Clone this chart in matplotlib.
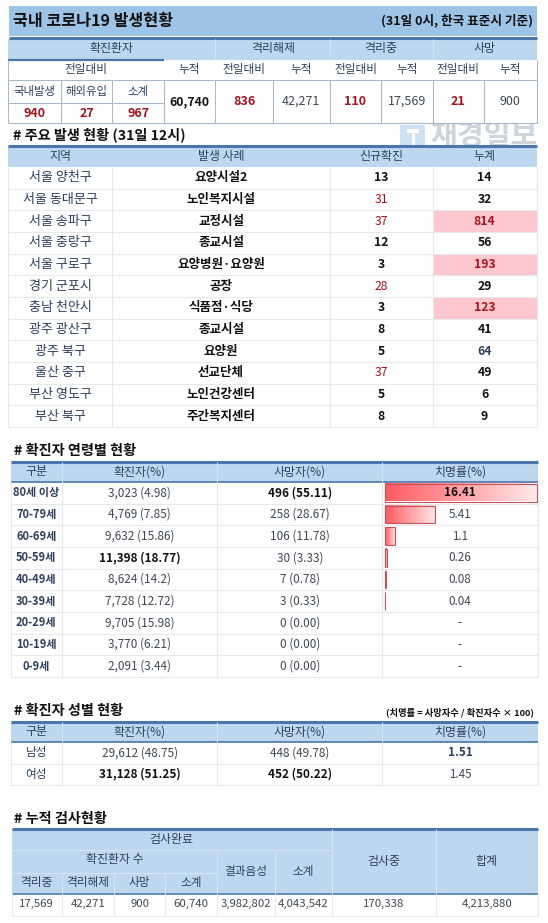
import numpy as np
import matplotlib
matplotlib.use('Agg')
import matplotlib.pyplot as plt
from matplotlib.patches import Rectangle

plt.rcParams['font.family'] = ['Noto Sans CJK KR', 'DejaVu Sans']

# top summary
summary_heads = ['확진환자', '격리해제', '격리중', '사망']
sub_heads = ['누적', '전일대비', '누적', '전일대비', '누적', '전일대비', '누적']
new_heads = ['국내발생', '해외유입', '소계']
new_values = ['940', '27', '967']
summary_values = ['60,740', '836', '42,271', '110', '17,569', '21', '900']

# main outbreaks
regions = ['서울 양천구', '서울 동대문구', '서울 송파구', '서울 중랑구', '서울 구로구', '경기 군포시',
           '충남 천안시', '광주 광산구', '광주 북구', '울산 중구', '부산 영도구', '부산 북구']
cases = ['요양시설2', '노인복지시설', '교정시설', '종교시설', '요양병원·요양원', '공장',
         '식품점·식당', '종교시설', '요양원', '선교단체', '노인건강센터', '주간복지센터']
new_cases = [13, 31, 37, 12, 3, 28, 3, 8, 5, 37, 5, 8]
total_cases = [14, 32, 814, 56, 193, 29, 123, 41, 64, 49, 6, 9]

# age table
ages = ['80세 이상', '70-79세', '60-69세', '50-59세', '40-49세', '30-39세', '20-29세', '10-19세', '0-9세']
age_conf = ['3,023 (4.98)', '4,769 (7.85)', '9,632 (15.86)', '11,398 (18.77)', '8,624 (14.2)',
            '7,728 (12.72)', '9,705 (15.98)', '3,770 (6.21)', '2,091 (3.44)']
age_dead = ['496 (55.11)', '258 (28.67)', '106 (11.78)', '30 (3.33)', '7 (0.78)', '3 (0.33)',
            '0 (0.00)', '0 (0.00)', '0 (0.00)']
age_rate = [16.41, 5.41, 1.1, 0.26, 0.08, 0.04, None, None, None]

# gender table
genders = ['남성', '여성']
gender_conf = ['29,612 (48.75)', '31,128 (51.25)']
gender_dead = ['448 (49.78)', '452 (50.22)']
gender_rate = ['1.51', '1.45']

# test table
test_heads = ['격리중', '격리해제', '사망', '소계']
test_values = ['17,569', '42,271', '900', '60,740', '3,982,802', '4,043,542', '170,338', '4,213,880']

HEAD = '#BDD7EE'
BAND = '#9DC3E6'
DARK = '#4A76AC'
LINE = '#E6E8EA'
LINE2 = '#A9B9CB'
RED = '#A3141E'
NAVY = '#2E3F5E'
BLACK = '#111111'
GRAY = '#3E4852'
XMAX = 548 / 1.05

fig = plt.figure(figsize=(5.48, 9.23), dpi=100)
ax = fig.add_axes([0, 0, 1, 1])
ax.set_xlim(0, XMAX)
ax.set_ylim(923, 0)
ax.axis('off')


def box(x0, y0, x1, y1, color, z=1):
    ax.add_patch(Rectangle((x0, y0), x1 - x0, y1 - y0, fc=color, ec='none', zorder=z))


def hl(x0, x1, y, color=LINE, lw=0.8):
    ax.plot([x0, x1], [y, y], color=color, lw=lw, zorder=3, solid_capstyle='butt')


def vl(x, y0, y1, color=LINE, lw=0.8):
    ax.plot([x, x], [y0, y1], color=color, lw=lw, zorder=3, solid_capstyle='butt')


def txt(x, y, s, size=8.6, color=BLACK, bold=False, ha='center'):
    ax.text(x, y, s, fontsize=size, color=color, ha=ha, va='center',
            fontweight='bold' if bold else 'normal', zorder=5)


def mid(xs, i):
    return (xs[i] + xs[i + 1]) / 2


# title band
box(9, 6, 511, 36, BAND)
hl(9, 511, 37.5, DARK, 2.2)
txt(12, 21, '국내 코로나19 발생현황', 11.6, bold=True, ha='left')
txt(508, 21, '(31일 0시, 한국 표준시 기준)', 9.1, bold=True, ha='right')

# summary table
xs = [8, 58, 107, 156, 205, 260, 314, 363, 412, 461, 511]
box(8, 39, 511, 60, HEAD)
box(8, 60, 511, 123, 'white')
hl(8, 156, 59.5, DARK, 1.6)
for x in [205, 314, 412]:
    vl(x, 39, 60, '#D5E4F2')
txt(106, 48.5, summary_heads[0], 8.6, NAVY)
txt(260, 48.5, summary_heads[1], 8.6, NAVY)
txt(363, 48.5, summary_heads[2], 8.6, NAVY)
txt(461, 48.5, summary_heads[3], 8.6, NAVY)
txt(82, 69.5, '전일대비', 8.4, NAVY)
for i, s in enumerate(sub_heads):
    txt(mid(xs, i + 3), 69.5, s, 8.4, NAVY)
for i, s in enumerate(new_heads):
    txt(mid(xs, i), 91, s, 8.2, NAVY)
    txt(mid(xs, i), 113.5, new_values[i], 9, RED, True)
txt(mid(xs, 3), 101.5, summary_values[0], 8.8, BLACK, True)
for i, s in enumerate(summary_values[1:]):
    red = i % 2 == 0
    txt(mid(xs, i + 4), 101.5, s, 9, RED if red else GRAY, red)
hl(8, 511, 80, LINE2)
hl(8, 156, 102.5, LINE2)
hl(8, 511, 123, LINE2)
for x in xs:
    vl(x, 80, 123, LINE2)
vl(8, 60, 80, LINE2)
vl(511, 60, 80, LINE2)

# watermark, the tables cover its top and bottom
ax.text(410, 136, '재경일보', fontsize=21, color='#CDD4DB', fontweight='bold', ha='left', va='center', zorder=0.5)
box(381, 125, 405, 146, '#CFE0F0', 0.5)
box(388, 129, 399, 133, 'white', 0.6)
box(392, 129, 395, 146, 'white', 0.6)

# outbreak table
txt(12, 134.5, '# 주요 발생 현황 (31일 12시)', 10.2, bold=True, ha='left')
xs = [8, 107, 314, 412, 511]
box(8, 146, 511, 167, HEAD)
hl(8, 511, 146, DARK, 2.2)
for i, s in enumerate(['지역', '발생 사례', '신규확진', '누계']):
    txt(mid(xs, i), 156.5, s, 8.6, NAVY)
rh = (427 - 167) / 12
for i in range(12):
    y = 167 + i * rh
    yc = y + rh / 2
    if total_cases[i] > 100:
        box(412, y, 511, y + rh, '#FFC7CE')
    txt(mid(xs, 0), yc, regions[i], 9.4, NAVY)
    txt(mid(xs, 1), yc, cases[i], 9, BLACK, True)
    hi_new = new_cases[i] > 20
    txt(mid(xs, 2), yc, str(new_cases[i]), 8.8, RED if hi_new else BLACK, not hi_new)
    hi_tot = total_cases[i] > 100
    col = RED if hi_tot else (NAVY if total_cases[i] == 64 else BLACK)
    txt(mid(xs, 3), yc, str(total_cases[i]), 8.8, col, True)
    hl(8, 511, y + rh)
for x in xs:
    vl(x, 167, 427)


def stat_header(y0, y1, xs):
    box(xs[0], y0, xs[-1], y1, HEAD)
    hl(xs[0], xs[-1], y0, DARK, 2.2)
    hl(xs[0], xs[-1], y1, DARK, 1.2)
    for x in xs[1:-1]:
        vl(x, y0, y1, '#D5E4F2')
    for i, s in enumerate(['구분', '확진자(%)', '사망자(%)', '치명률(%)']):
        txt(mid(xs, i), (y0 + y1) / 2, s, 8.6, NAVY)


# age table
txt(13, 450.5, '# 확진자 연령별 현황', 10.2, bold=True, ha='left')
xs = [10, 59, 207, 364, 512]
stat_header(461.5, 482, xs)
rh = (677 - 482) / 9
bar_x0 = 366.5
bar_full = 511 - bar_x0
max_rate = max(r for r in age_rate if r is not None)
grad = np.linspace(0, 1, 256).reshape(1, -1)
cmap = matplotlib.colors.LinearSegmentedColormap.from_list('bar', ['#FF5A60', '#FFE9EA'])
for i in range(9):
    y = 482 + i * rh
    yc = y + rh / 2
    txt(mid(xs, 0), yc, ages[i], 8, NAVY, True)
    conf_bold = age_conf[i].startswith('11,398')
    txt(mid(xs, 1), yc, age_conf[i], 8.5, BLACK if conf_bold else GRAY, conf_bold)
    txt(mid(xs, 2), yc, age_dead[i], 8.5, BLACK if i == 0 else GRAY, i == 0)
    r = age_rate[i]
    if r is None:
        txt(mid(xs, 3), yc, '-', 8.6, GRAY)
    else:
        w = r / max_rate * bar_full
        ax.imshow(grad, cmap=cmap, extent=(bar_x0, bar_x0 + w, y + 19.5, y + 2), aspect='auto', zorder=2)
        ax.add_patch(Rectangle((bar_x0, y + 2), w, 17.5, fc='none', ec='#C8505A', lw=0.8, zorder=3))
        txt(mid(xs, 3), yc, str(r), 8.4, BLACK if i == 0 else GRAY, i == 0)
    hl(xs[0], xs[-1], y + rh)
for x in xs:
    vl(x, 482, 677)
ax.set_xlim(0, XMAX)
ax.set_ylim(923, 0)

# gender table
txt(13, 710.5, '# 확진자 성별 현황', 10.2, bold=True, ha='left')
txt(508, 712, '(치명률 = 사망자수 / 확진자수 × 100)', 6.7, bold=True, ha='right')
stat_header(721.5, 742, xs)
rh = 21.5
for i in range(2):
    y = 742 + i * rh
    yc = y + rh / 2
    txt(mid(xs, 0), yc, genders[i], 8.4, NAVY)
    txt(mid(xs, 1), yc, gender_conf[i], 8.5, BLACK if i == 1 else GRAY, i == 1)
    txt(mid(xs, 2), yc, gender_dead[i], 8.5, BLACK if i == 1 else GRAY, i == 1)
    txt(mid(xs, 3), yc, gender_rate[i], 8.4, NAVY if i == 0 else GRAY, i == 0)
    hl(xs[0], xs[-1], y + rh)
for x in xs:
    vl(x, 742, 785)

# test table
txt(13, 819, '# 누적 검사현황', 10.2, bold=True, ha='left')
xs = [11, 59, 109, 157, 207, 262, 316, 415, 512]
box(11, 829, 512, 893, HEAD)
hl(11, 512, 829, DARK, 2.2)
hl(11, 512, 893.5, DARK, 1.2)
hl(11, 316, 850, '#D5E4F2')
hl(11, 207, 872.5, '#D5E4F2')
for x in [59, 109, 157]:
    vl(x, 872.5, 893, '#D5E4F2')
for x in [207, 262]:
    vl(x, 850, 893, '#D5E4F2')
for x in [316, 415]:
    vl(x, 829, 893, '#D5E4F2')
txt(163.5, 839, '검사완료', 8.6, NAVY)
txt(109, 860, '확진환자 수', 8.6, NAVY)
for i, s in enumerate(test_heads):
    txt(mid(xs, i), 882.5, s, 8.4, NAVY)
txt(mid(xs, 4), 871, '결과음성', 8.4, NAVY)
txt(mid(xs, 5), 871, '소계', 8.4, NAVY)
txt(mid(xs, 6), 861, '검사중', 8.6, NAVY)
txt(mid(xs, 7), 861, '합계', 8.6, NAVY)
for i, s in enumerate(test_values):
    txt(mid(xs, i), 904, s, 8.2, GRAY)
hl(11, 512, 915.5)
for x in xs:
    vl(x, 893, 915.5)

fig.savefig('out.png', dpi=100)
